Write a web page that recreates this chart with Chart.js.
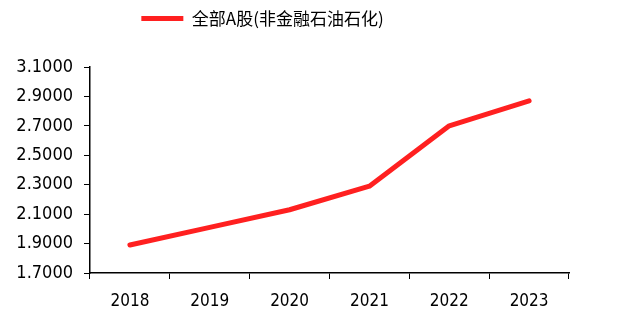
<!DOCTYPE html>
<html>
<head>
<meta charset="utf-8">
<script src="https://cdn.jsdelivr.net/npm/chart.js@4/dist/chart.umd.min.js"></script>
<style>
  html, body { margin: 0; padding: 0; background: #fff; }
  #wrap { width: 638px; height: 316px; }
</style>
</head>
<body>
<div id="wrap"><canvas id="myChart" width="638" height="316"></canvas></div>
<script>
const years = ['2018', '2019', '2020', '2021', '2022', '2023'];
const seriesName = '全部A股(非金融石油石化)';
const seriesValues = [1.89, 2.01, 2.13, 2.29, 2.70, 2.87];
const yMin = 1.7;
const yMax = 3.1;
const yStep = 0.2;

const fontFamily = '"DejaVu Sans Condensed", "DejaVu Sans", sans-serif';

// push legend a bit higher/left and leave room above the plot like the original
const legendTweak = {
    id: 'legendTweak',
    beforeLayout(chart) {
        const lg = chart.legend;
        if (lg && !lg._patched) {
            const origFit = lg.fit;
            lg.fit = function () {
                origFit.call(this);
                this.height += 30;
            };
            lg._patched = true;
        }
    },
    afterLayout(chart) {
        const lg = chart.legend;
        if (lg) {
            lg.left -= 22;
            lg.right -= 22;
        }
    }
};

function createChart() {
    const ctx = document.getElementById('myChart').getContext('2d');
    return new Chart(ctx, {
        type: 'line',
        data: {
            labels: years,
            datasets: [{
                label: seriesName,
                data: seriesValues,
                borderColor: '#ff2020',
                backgroundColor: '#ff2020',
                borderWidth: 5,
                borderCapStyle: 'round',
                borderJoinStyle: 'round',
                pointRadius: 0,
                pointStyle: 'line',
                tension: 0,
                fill: false
            }]
        },
        plugins: [legendTweak],
        options: {
            responsive: false,
            animation: false,
            layout: { padding: { left: 0, right: 69, top: 0, bottom: 2 } },
            plugins: {
                legend: {
                    position: 'top',
                    labels: {
                        usePointStyle: true,
                        pointStyleWidth: 42,
                        boxHeight: 17,
                        padding: 10,
                        color: '#000',
                        font: { family: '"Noto Sans CJK SC", sans-serif', size: 17 }
                    }
                },
                tooltip: { enabled: false }
            },
            scales: {
                x: {
                    offset: true,
                    afterFit: s => { s.height = 41; },
                    grid: {
                        offset: true,
                        drawOnChartArea: false,
                        drawTicks: true,
                        tickLength: 6,
                        color: '#000',
                        lineWidth: 1
                    },
                    border: { color: '#000', width: 1.5 },
                    ticks: {
                        color: '#000',
                        padding: 12,
                        font: { family: fontFamily, size: 17 }
                    }
                },
                y: {
                    min: yMin,
                    max: yMax,
                    afterFit: s => { s.width = 90; },
                    grid: {
                        drawOnChartArea: false,
                        drawTicks: true,
                        tickLength: 6,
                        color: '#000',
                        lineWidth: 1
                    },
                    border: { color: '#000', width: 1.5 },
                    ticks: {
                        stepSize: yStep,
                        color: '#000',
                        padding: 11,
                        font: { family: fontFamily, size: 18 },
                        callback: v => v.toFixed(4)
                    }
                }
            }
        }
    });
}

const myChart = createChart();
</script>
</body>
</html>
